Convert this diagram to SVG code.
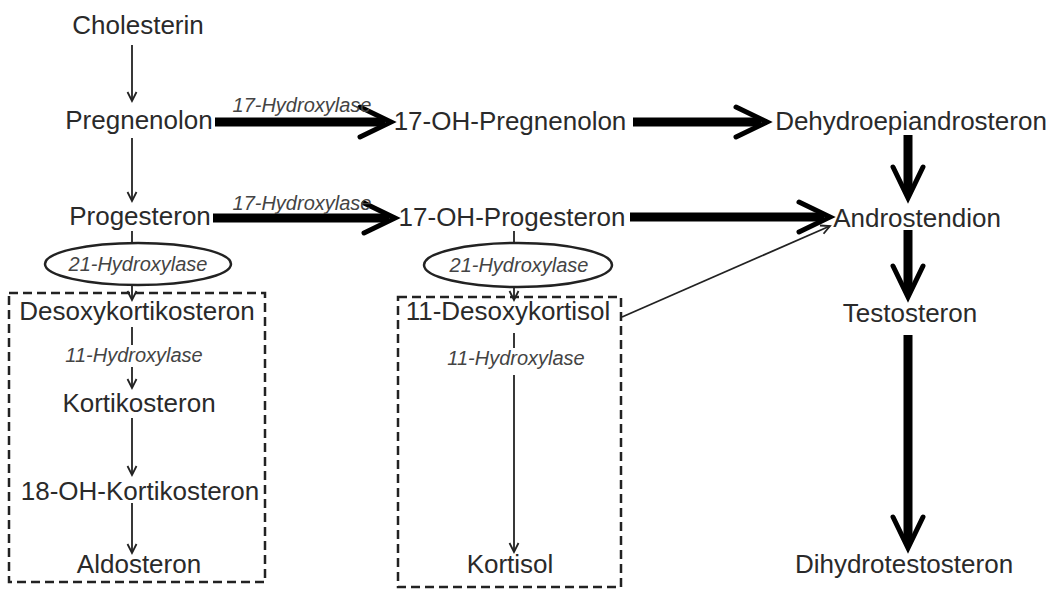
<svg xmlns="http://www.w3.org/2000/svg" width="1054" height="590" viewBox="0 0 1054 590">
<defs>
<style>
.n{font-family:"Liberation Sans",Arial,sans-serif;font-size:26px;fill:#2a2a2a;text-anchor:middle}
.e{font-family:"Liberation Sans",Arial,sans-serif;font-size:20px;font-style:italic;fill:#444;text-anchor:middle}
.thin{stroke:#222;stroke-width:1.8;fill:none}
.thick{stroke:#000;stroke-width:9;fill:none}
.box{stroke:#222;stroke-width:2.5;fill:none;stroke-dasharray:9 5}
.ell{stroke:#222;stroke-width:2.5;fill:#fff}
</style>
<marker id="big" markerUnits="userSpaceOnUse" markerWidth="40" markerHeight="40" viewBox="-30 -20 40 40" refX="0" refY="0" orient="auto" overflow="visible">
<path d="M-25,-15 L6,0 L-25,15" fill="none" stroke="#000" stroke-width="5" stroke-linejoin="miter" stroke-linecap="round"/>
</marker>
<marker id="sm" markerUnits="userSpaceOnUse" markerWidth="20" markerHeight="20" viewBox="-10 -10 20 20" refX="0" refY="0" orient="auto" overflow="visible">
<path d="M-9,-4.5 L0,0 L-9,4.5" fill="none" stroke="#222" stroke-width="1.8"/>
</marker>
</defs>
<rect width="1054" height="590" fill="#fff"/>

<g id="connectors">
<line class="thin" x1="132" y1="45" x2="132" y2="101" marker-end="url(#sm)"/>
<line class="thin" x1="132" y1="138" x2="132" y2="201" marker-end="url(#sm)"/>
<line class="thin" x1="132" y1="231" x2="132" y2="300" marker-end="url(#sm)"/>
<line class="thin" x1="132" y1="327" x2="132" y2="345"/>
<line class="thin" x1="132" y1="367" x2="132" y2="388" marker-end="url(#sm)"/>
<line class="thin" x1="132" y1="418" x2="132" y2="475" marker-end="url(#sm)"/>
<line class="thin" x1="132" y1="503" x2="132" y2="553" marker-end="url(#sm)"/>
<line class="thin" x1="514" y1="231" x2="514" y2="300" marker-end="url(#sm)"/>
<line class="thin" x1="514" y1="333" x2="514" y2="348"/>
<line class="thin" x1="514" y1="375" x2="514" y2="552" marker-end="url(#sm)"/>
<line class="thin" x1="622" y1="317" x2="830" y2="226" stroke-width="2.2" marker-end="url(#sm)"/>
<line class="thick" x1="215" y1="122" x2="385" y2="122" marker-end="url(#big)"/>
<line class="thick" x1="213" y1="218" x2="389" y2="218" marker-end="url(#big)"/>
<line class="thick" x1="633" y1="122" x2="761" y2="122" marker-end="url(#big)"/>
<line class="thick" x1="630" y1="217" x2="824" y2="217" marker-end="url(#big)"/>
<line class="thick" x1="908" y1="135" x2="908" y2="192" marker-end="url(#big)"/>
<line class="thick" x1="908" y1="230" x2="908" y2="291" marker-end="url(#big)"/>
<line class="thick" x1="908" y1="335" x2="908" y2="542" marker-end="url(#big)"/>
</g>

<g id="group-mineralo"><rect class="box" x="9" y="293" width="256" height="289"/></g>
<g id="group-gluco"><rect class="box" x="398" y="297" width="223" height="290"/></g>

<g id="enzyme-21a"><ellipse class="ell" cx="138" cy="264" rx="93" ry="21"/><text class="e" x="138" y="271">21-Hydroxylase</text></g>
<g id="enzyme-21b"><ellipse class="ell" cx="518" cy="265" rx="94" ry="22"/><text class="e" x="519" y="272">21-Hydroxylase</text></g>
<g id="enzyme-17a"><text class="e" x="302" y="112">17-Hydroxylase</text></g>
<g id="enzyme-17b"><text class="e" x="302" y="210">17-Hydroxylase</text></g>
<g id="enzyme-11a"><text class="e" x="134" y="362">11-Hydroxylase</text></g>
<g id="enzyme-11b"><text class="e" x="516" y="365">11-Hydroxylase</text></g>

<g id="cholesterin"><text class="n" x="138" y="34">Cholesterin</text></g>
<g id="pregnenolon"><text class="n" x="139" y="129">Pregnenolon</text></g>
<g id="progesteron"><text class="n" x="140" y="225">Progesteron</text></g>
<g id="oh-pregnenolon"><text class="n" x="510" y="130">17-OH-Pregnenolon</text></g>
<g id="oh-progesteron"><text class="n" x="512" y="226">17-OH-Progesteron</text></g>
<g id="dhea"><text class="n" x="911" y="130">Dehydroepiandrosteron</text></g>
<g id="androstendion"><text class="n" x="917" y="227">Androstendion</text></g>
<g id="testosteron"><text class="n" x="910" y="322">Testosteron</text></g>
<g id="dht"><text class="n" x="904" y="573">Dihydrotestosteron</text></g>
<g id="desoxykortikosteron"><text class="n" x="137" y="320">Desoxykortikosteron</text></g>
<g id="kortikosteron"><text class="n" x="139" y="412">Kortikosteron</text></g>
<g id="oh-kortikosteron"><text class="n" x="140" y="500">18-OH-Kortikosteron</text></g>
<g id="aldosteron"><text class="n" x="139" y="573">Aldosteron</text></g>
<g id="desoxykortisol"><text class="n" x="508" y="320">11-Desoxykortisol</text></g>
<g id="kortisol"><text class="n" x="510" y="573">Kortisol</text></g>
</svg>
